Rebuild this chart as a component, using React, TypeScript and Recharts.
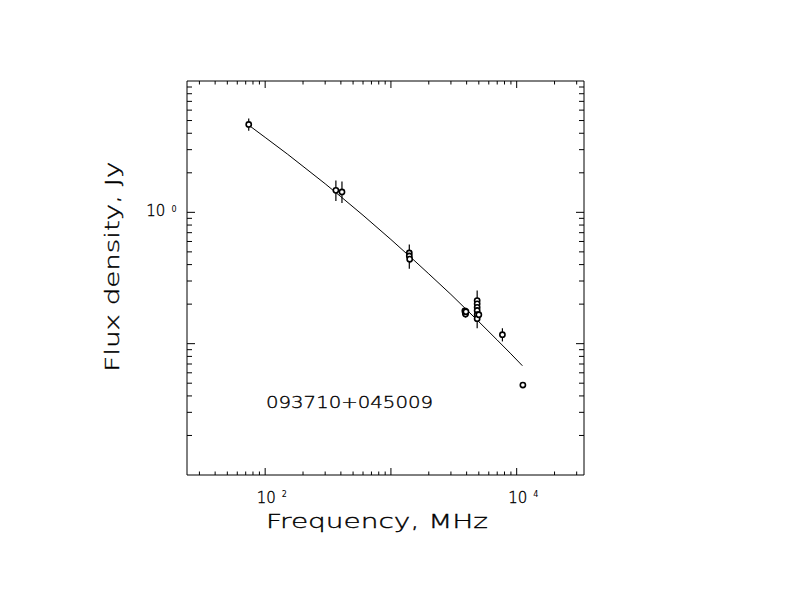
import { ComposedChart, ErrorBar, Scatter, XAxis, YAxis } from "recharts";

// fitted spectrum
const fitFreq = [74, 100, 150, 200, 300, 400, 600, 1000, 1500, 2000, 3000, 5000, 7000, 9000, 11100];
const fitFlux = [4.61, 3.72, 2.78, 2.24, 1.65, 1.315, 0.95, 0.621, 0.438, 0.34, 0.237, 0.147, 0.1066, 0.0836, 0.0679];

// measurements (MHz, Jy) with lower / upper errors
const obsFreq = [74, 365, 408, 1400, 1400, 1410, 3870, 3900, 3920, 3950, 4850, 4850, 4850, 4850, 4850, 4850, 5000, 7700, 11200];
const obsFlux = [4.67, 1.47, 1.43, 0.49, 0.465, 0.44, 0.178, 0.172, 0.168, 0.175, 0.213, 0.201, 0.189, 0.179, 0.166, 0.155, 0.166, 0.117, 0.0484];
const errLow = [0.49, 0.25, 0.25, 0.03, 0.093, 0.03, 0.01, 0.012, 0.01, 0.01, 0.02, 0.015, 0.015, 0.015, 0.015, 0.024, 0.012, 0.013, 0];
const errHigh = [0.52, 0.28, 0.29, 0.03, 0.105, 0.03, 0.007, 0.01, 0.008, 0.01, 0.041, 0.015, 0.015, 0.015, 0.015, 0.015, 0.012, 0.014, 0];

const xTicks = [30, 40, 50, 60, 70, 80, 90, 100, 200, 300, 400, 500, 600, 700, 800, 900, 1000, 2000, 3000, 4000, 5000, 6000, 7000, 8000, 9000, 10000, 20000, 30000];
const yTicks = [0.02, 0.03, 0.04, 0.05, 0.06, 0.07, 0.08, 0.09, 0.1, 0.2, 0.3, 0.4, 0.5, 0.6, 0.7, 0.8, 0.9, 1, 2, 3, 4, 5, 6, 7, 8, 9];
const xLabelled = [100, 10000];
const yLabelled = [1];

const fit = fitFreq.map((f, i) => ({ f, s: fitFlux[i] }));
const obs = obsFreq.map((f, i) => ({ f, s: obsFlux[i], e: [errLow[i], errHigh[i]] }));

const FONT = "'DejaVu Sans', sans-serif";
const txt = { fontFamily: FONT, fontWeight: 200, fill: "#000", stroke: "#000", strokeWidth: 0.35 };
const sup = { fontFamily: FONT, fontWeight: 400, fill: "#000" };
const isMajor = (v: number) => Math.abs(Math.log10(v) - Math.round(Math.log10(v))) < 1e-6;

function XTick({ x, y, payload, top }: any) {
  const v = payload.value;
  const len = isMajor(v) ? 7 : 3.5;
  const dir = top ? 1 : -1;
  const exp = !top && xLabelled.includes(v) ? Math.round(Math.log10(v)) : null;
  return (
    <g>
      <line x1={x} x2={x} y1={y} y2={y + dir * len} stroke="#000" strokeWidth={1} />
      {exp !== null && (
        <>
          <text x={x - 8.5} y={y + 27.7} fontSize={15} {...txt}>
            10
          </text>
          <text x={x + 16.5} y={y + 21.5} fontSize={8} {...sup}>
            {exp}
          </text>
        </>
      )}
    </g>
  );
}

function YTick({ x, y, payload, right }: any) {
  const v = payload.value;
  const len = isMajor(v) ? 8 : 5;
  const dir = right ? -1 : 1;
  const exp = !right && yLabelled.includes(v) ? Math.round(Math.log10(v)) : null;
  return (
    <g>
      <line x1={x} x2={x + dir * len} y1={y} y2={y} stroke="#000" strokeWidth={1} />
      {exp !== null && (
        <>
          <text x={x - 21.7} y={y + 4} textAnchor="end" fontSize={15} {...txt}>
            10
          </text>
          <text x={x - 15.5} y={y} fontSize={8} {...sup}>
            {exp}
          </text>
        </>
      )}
    </g>
  );
}

const OpenCircle = (p: any) => (
  <circle cx={p.cx} cy={p.cy} r={2.6} fill="#fff" stroke="#000" strokeWidth={1.6} />
);

export default function App() {
  return (
    <div style={{ position: "absolute", left: 0, top: 0, width: 792, height: 612, background: "#fff" }}>
      <ComposedChart width={792} height={612} margin={{ top: 51, right: 148, bottom: 107, left: 127 }}>
        <XAxis
          xAxisId="b"
          dataKey="f"
          type="number"
          scale="log"
          domain={[23.9, 34300]}
          allowDataOverflow
          ticks={xTicks}
          interval={0}
          height={30}
          tickSize={0}
          tickMargin={0}
          tickLine={false}
          axisLine={{ stroke: "#000" }}
          tick={(p: any) => <XTick {...p} />}
        />
        <XAxis
          xAxisId="t"
          orientation="top"
          dataKey="f"
          type="number"
          scale="log"
          domain={[23.9, 34300]}
          allowDataOverflow
          ticks={xTicks}
          interval={0}
          height={30}
          tickSize={0}
          tickMargin={0}
          tickLine={false}
          axisLine={{ stroke: "#000" }}
          tick={(p: any) => <XTick {...p} top />}
        />
        <YAxis
          yAxisId="l"
          dataKey="s"
          type="number"
          scale="log"
          domain={[0.01, 10]}
          allowDataOverflow
          ticks={yTicks}
          interval={0}
          width={60}
          tickSize={0}
          tickMargin={0}
          tickLine={false}
          axisLine={{ stroke: "#000" }}
          tick={(p: any) => <YTick {...p} />}
        />
        <YAxis
          yAxisId="r"
          orientation="right"
          dataKey="s"
          type="number"
          scale="log"
          domain={[0.01, 10]}
          allowDataOverflow
          ticks={yTicks}
          interval={0}
          width={60}
          tickSize={0}
          tickMargin={0}
          tickLine={false}
          axisLine={{ stroke: "#000" }}
          tick={(p: any) => <YTick {...p} right />}
        />
        <Scatter
          data={fit}
          xAxisId="b"
          yAxisId="l"
          line={{ stroke: "#000", strokeWidth: 1 }}
          lineType="joint"
          shape={() => <g />}
          isAnimationActive={false}
        />
        <Scatter data={obs} xAxisId="b" yAxisId="l" shape={OpenCircle} isAnimationActive={false}>
          <ErrorBar dataKey="e" direction="y" width={0} stroke="#000" strokeWidth={1.2} isAnimationActive={false} />
        </Scatter>
      </ComposedChart>
      <svg width={792} height={612} style={{ position: "absolute", left: 0, top: 0, pointerEvents: "none" }}>
        <text x={266} y={528} fontSize={19} textLength={222} lengthAdjust="spacingAndGlyphs" {...txt}>
          Frequency, MHz
        </text>
        <text transform="translate(119 371.7) rotate(-90)" fontSize={19} textLength={210} lengthAdjust="spacingAndGlyphs" {...txt}>
          Flux density, Jy
        </text>
        <text x={266} y={408.3} fontSize={16} textLength={167} lengthAdjust="spacingAndGlyphs" {...txt}>
          093710+045009
        </text>
      </svg>
    </div>
  );
}
